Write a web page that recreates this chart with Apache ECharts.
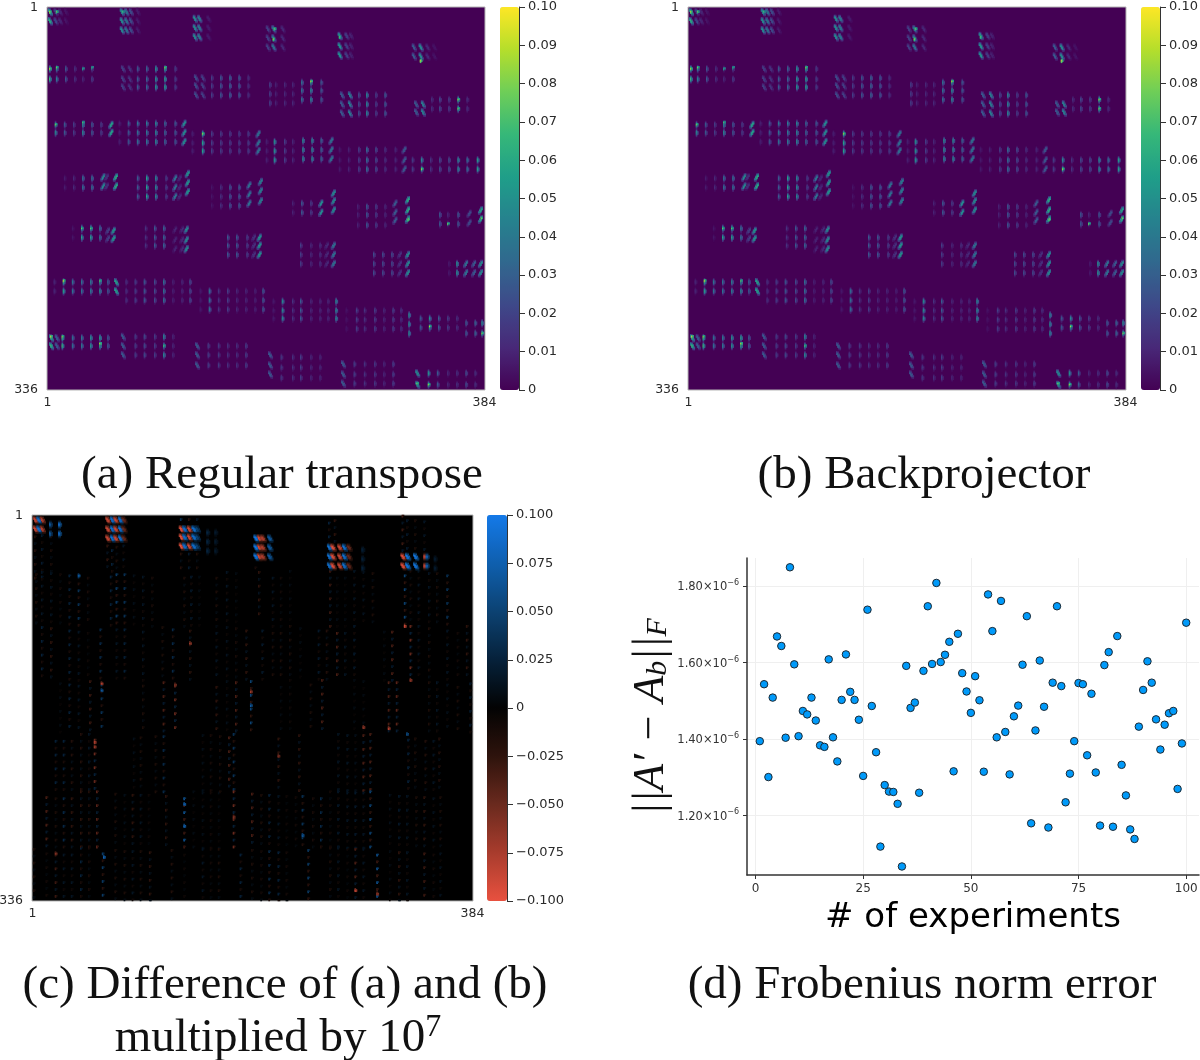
<!DOCTYPE html>
<html><head><meta charset="utf-8">
<style>html,body{margin:0;padding:0;background:#fff}#c{width:1200px;height:1060px}</style>
<script src="https://cdn.jsdelivr.net/npm/echarts@6/dist/echarts.min.js"></script>
</head><body><div id="c"></div>
<script>
const experimentIdx=[1,2,3,4,5,6,7,8,9,10,11,12,13,14,15,16,17,18,19,20,21,22,23,24,25,26,27,28,29,30,31,32,33,34,35,36,37,38,39,40,41,42,43,44,45,46,47,48,49,50,51,52,53,54,55,56,57,58,59,60,61,62,63,64,65,66,67,68,69,70,71,72,73,74,75,76,77,78,79,80,81,82,83,84,85,86,87,88,89,90,91,92,93,94,95,96,97,98,99,100];
const frobErrorE6=[1.394,1.543,1.300,1.508,1.668,1.643,1.403,1.849,1.595,1.407,1.473,1.464,1.508,1.448,1.383,1.379,1.608,1.404,1.341,1.502,1.621,1.523,1.502,1.450,1.303,1.738,1.486,1.365,1.118,1.279,1.262,1.261,1.230,1.066,1.591,1.481,1.495,1.259,1.578,1.747,1.596,1.808,1.601,1.620,1.654,1.315,1.675,1.572,1.524,1.468,1.564,1.501,1.314,1.778,1.682,1.404,1.761,1.418,1.307,1.459,1.487,1.594,1.721,1.179,1.422,1.605,1.484,1.168,1.547,1.747,1.538,1.234,1.309,1.394,1.546,1.543,1.357,1.518,1.312,1.173,1.593,1.627,1.170,1.669,1.332,1.252,1.163,1.138,1.432,1.528,1.603,1.547,1.451,1.372,1.437,1.467,1.473,1.269,1.388,1.704];
const xTicksD=[0,25,50,75,100];
const yTicksD=[1.2,1.4,1.6,1.8];
const colLabels=Array.from({length:384},(_,i)=>String(i+1));
const rowLabels=Array.from({length:336},(_,i)=>String(i+1));

// each group: [columns], [rows], [value per column], spot shape (T tall, B "\" slant, S "/" slant)
const band1=[
[[2,7,11,16],[4,12],[.065,.022,.012,.006],'B'],
[[65,69,73,79],[4,12,20],[.05,.04,.025,.008],'B'],
[[129,133,141],[10,18,26],[.05,.045,.008],'B'],
[[193,198,206],[19,27,35],[.02,.04,.012],'B'],
[[256,262,266],[25,34,42],[.055,.02,.01],'B'],
[[321,327,333,339],[35,43],[.03,.05,.012,.006],'B']];
const band2=[
[[2,8,16,24,31,39],[54,63],[.07,.045,.03,.015,.012,.02],'T'],
[[66,72],[54,63,70],[.02,.015],'B'],
[[79,87,95,103,112],[54,63,70],[.03,.035,.055,.06,.02],'T'],
[[130,136],[62,69,77],[.025,.02],'B'],
[[144,152,160,168,176],[62,69,77],[.02,.03,.035,.03,.015],'T'],
[[195,200,208,215],[68,76,84],[.02,.01,.012,.012],'T'],
[[223,231,240],[66,73,81],[.04,.05,.03],'T'],
[[258,265],[77,85,93],[.03,.045],'B'],
[[273,280,288,296],[77,85,93],[.025,.05,.02,.03],'T'],
[[323,329],[85,92],[.03,.045],'B'],
[[337,344,352,360,368],[81,89],[.015,.025,.02,.06,.015],'T']];
const band3=[
[[7,15,23,31,39,47],[103,110],[.05,.03,.02,.05,.03,.02],'T'],
[[56],[103,110],[.06],'S'],
[[63,71,79,87,95,103,112],[102,110,118],[.01,.03,.04,.045,.05,.035,.03],'T'],
[[120],[102,110,118],[.05],'S'],
[[127,136,144,152,160,168,176],[111,119,126],[.01,.06,.02,.02,.02,.02,.02],'T'],
[[185],[111,119,126],[.04],'S'],
[[192,199,208,215],[118,126,134],[.01,.055,.02,.012],'T'],
[[224,232,240],[117,125,133],[.05,.05,.035],'T'],
[[249],[117,125,133],[.04],'S'],
[[256,264,273,280,288,296,305],[125,134,142],[.008,.01,.02,.04,.025,.015,.012],'T'],
[[313],[125,134,142],[.03],'S'],
[[320,328,336,344,352,360,368,377],[134,142],[.02,.05,.015,.025,.025,.05,.04,.06],'T']];
const band4=[
[[15,23,31,39],[150,158],[.008,.012,.04,.04],'T'],
[[49,52,60],[149,157],[.05,.015,.065],'S'],
[[79,87,95,104],[150,158,166],[.03,.06,.05,.02],'T'],
[[112,116],[150,158,166],[.04,.012],'S'],
[[123],[146,154,162],[.055],'S'],
[[144,152,160,168],[158,166,174],[.006,.015,.03,.03],'T'],
[[177],[156,164,172],[.04],'S'],
[[187],[153,161,170],[.045],'S'],
[[215,223,231],[172,180],[.01,.03,.02],'T'],
[[240],[172,180],[.05],'S'],
[[251],[163,170,178],[.05],'S'],
[[272,280,288,296],[175,182,191],[.01,.03,.02,.012],'T'],
[[305],[172,180,187],[.03],'S'],
[[316],[169,178,186],[.065],'S'],
[[344,351,360],[182,190],[.03,.012,.03],'T'],
[[370],[181,189],[.025],'S'],
[[380],[178,186],[.06],'S']];
const band5=[
[[22,30,38,46],[194,202],[.006,.06,.06,.04],'T'],
[[53,58],[196,203],[.02,.055],'S'],
[[86,94,102],[194,202,209],[.015,.03,.035],'T'],
[[112,118,122],[195,204,212],[.01,.012,.05],'S'],
[[158,166,175],[202,209,217],[.03,.03,.02],'T'],
[[181,186],[202,209,217],[.015,.055],'S'],
[[222,231,239],[209,217,225],[.02,.012,.015],'T'],
[[245,251],[209,217,225],[.012,.04],'S'],
[[286,294,302],[217,225,233],[.025,.025,.025],'T'],
[[309,316],[217,225,233],[.015,.05],'S'],
[[352,359],[225,233],[.008,.055],'T'],
[[367,374,380],[225,233],[.04,.03,.05],'S']];
const band6=[
[[6,14,22,30,38,46,53],[241,249],[.012,.06,.04,.04,.045,.05,.03],'T'],
[[60],[241,249],[.06],'B'],
[[69,77,85,94,102,110,118,125],[241,249,257],[.015,.02,.03,.025,.04,.01,.012,.025],'T'],
[[134,142,150,158,166,174,182,189],[249,257,265],[.008,.04,.015,.02,.012,.012,.01,.03],'T'],
[[198,206,215,222,231,239,246,253],[258,266,273],[.008,.05,.015,.03,.012,.012,.012,.05],'T'],
[[262,271,278,287,295,303,310],[266,274,282],[.006,.02,.015,.02,.012,.02,.015],'T'],
[[317],[270,278,286],[.05],'T'],
[[327,335,343,351,359],[273,281],[.03,.05,.03,.02,.015],'T'],
[[367,375,381],[277,286],[.03,.035,.05],'T']];
const band7=[
[[3,8],[290,297],[.06,.03],'B'],
[[13,22,30,38,46,53],[290,297],[.07,.04,.045,.055,.06,.03],'T'],
[[66],[289,297,305],[.03],'B'],
[[77,85,94,102,110],[289,297,305],[.02,.025,.02,.05,.012],'T'],
[[131],[297,305,314],[.03],'B'],
[[141,150,158,166,174],[297,305,314],[.02,.018,.015,.015,.02],'T'],
[[195],[305,314,322],[.03],'B'],
[[205,215,222,231,239],[307,316,325],[.018,.015,.02,.012,.012],'T'],
[[259],[313,322,330],[.03],'B'],
[[269,278,287,295,303],[313,322,330],[.02,.015,.018,.012,.02],'T'],
[[324],[321,331],[.05],'B'],
[[334,342,351,359,367,375],[321,331],[.055,.03,.012,.015,.025,.015],'T']];
const hotA=[[2,4,.09],[8,4,.08],[2,54,.09],[8,53,.08],[31,54,.06],[39,53,.065],[66,4,.07],[103,53,.085],[199,19,.08],[198,28,.085],[327,47,.095],[231,65,.09],[360,81,.085],[360,89,.08],[7,103,.08],[31,101,.07],[136,111,.085],[328,142,.085],[351,190,.08],[316,186,.09],[30,194,.075],[38,194,.075],[14,240,.095],[46,240,.075],[335,280,.085],[381,286,.08],[3,289,.1],[3,297,.07],[13,289,.085],[46,295,.09],[102,297,.07],[324,330,.08],[334,331,.085],[256,26,.075],[380,185,.085]];

// Difference panel
const cBlocks=[
[[2,5,8],[4,12],[-.09,.09,-.08],'B'],
[[15,23],[8,16],[.07,.09],'T'],
[[65,69,72,76,79],[4,12,20],[-.09,.09,-.09,.09,-.05],'B'],
[[129,132,136,140,143],[12,19,27],[-.1,.09,-.09,.09,.05],'B'],
[[152,159],[15,23,31],[.03,.02],'T'],
[[194,197,200,206],[20,28,36],[.1,-.09,-.08,.07],'B'],
[[258,261,267,271,275],[28,36,44],[.09,-.1,-.09,.09,-.05],'B'],
[[287],[30,38,46],[.025],'T'],
[[322,326,333],[36,44],[-.1,.1,.1],'B'],
[[341,343],[36,44],[-.09,.08],'T'],
[[350],[38,46],[.02],'T']];
// each streak: column, first row, last row, value
const streaksTop=[[2,16,55,-.015],[8,16,55,.015],[16,16,48,-.012],[65,24,48,-.02],[69,24,48,.02],[73,24,48,-.012],[79,24,48,.012],[129,0,10,.03],[136,0,10,-.02],[143,0,10,.012],[129,30,48,-.015],[136,30,48,.015],[143,30,48,-.012],[258,0,24,.02],[263,0,24,-.02],[322,0,32,-.025],[326,0,32,.015],[333,0,32,-.012],[341,0,32,.012],[194,40,48,-.01]];
const streaksA=[[3,48,95,-.012],[8,48,95,.012],[16,48,95,.012],[24,48,95,-.008],[32,48,95,.02],[40,48,95,.03],[48,48,95,-.01],[68,48,96,.02],[73,48,96,.035],[80,48,96,.03],[88,48,96,.008],[96,48,96,.012],[104,48,96,-.01],[132,48,96,-.012],[138,48,96,.015],[145,48,96,.006],[160,48,96,-.012],[169,48,96,.012],[177,48,96,.006],[197,48,90,-.02],[209,48,96,.012],[216,48,96,-.008],[224,48,96,.006],[259,48,96,-.025],[265,48,96,.006],[272,48,96,.006],[280,48,96,.012],[288,48,96,.01],[296,48,96,-.012],[324,50,96,.04],[329,48,96,-.01],[336,48,96,.012],[345,48,96,.012],[352,48,96,-.012],[361,48,95,.03]];
const streaksB=[[8,96,143,.02],[16,96,143,-.02],[32,96,143,.02],[40,96,143,.012],[48,96,143,-.006],[59,96,143,.025],[73,96,143,.012],[80,96,143,.02],[96,96,143,.012],[113,96,143,-.012],[122,96,143,.025],[137,96,143,-.02],[160,96,143,.012],[169,96,143,.01],[177,96,143,-.01],[186,96,143,-.02],[200,96,143,.015],[209,96,143,-.012],[216,96,143,-.012],[224,96,143,-.012],[233,96,143,.006],[249,96,143,.015],[256,96,143,-.015],[265,96,143,-.03],[272,96,143,.012],[280,96,143,.015],[306,96,143,.006],[313,96,143,-.03],[329,96,143,-.04],[336,96,143,.012],[345,96,143,-.012],[361,96,143,.012],[370,96,143,-.008],[378,96,143,-.02]];
const streaksC=[[24,143,188,.006],[32,143,188,.02],[40,143,188,.012],[50,143,188,-.025],[60,143,188,.03],[96,143,188,-.012],[114,143,188,-.03],[124,143,188,-.04],[160,143,188,-.02],[169,143,188,.008],[177,143,188,-.03],[190,143,188,.04],[216,143,188,.006],[224,143,188,-.006],[242,143,188,-.012],[252,143,188,-.03],[280,143,188,.006],[288,143,188,.006],[310,143,188,-.03],[317,143,188,-.035],[345,143,188,-.012],[352,143,188,.012],[361,143,188,.008],[370,143,188,-.012],[381,143,188,.015]];
const streaksD=[[20,190,240,.02],[27,190,240,.02],[34,190,240,-.015],[42,190,240,-.015],[49,190,240,.012],[54,190,240,-.04],[88,190,240,.008],[94,190,240,-.012],[107,190,240,-.012],[114,190,240,.025],[148,190,240,.008],[155,190,240,-.01],[163,190,240,-.012],[171,190,240,-.03],[175,190,240,.03],[214,190,240,-.02],[232,190,240,-.02],[266,190,240,.012],[274,190,240,.012],[281,190,240,.008],[288,190,240,-.03],[294,190,240,-.03],[327,190,240,.02],[333,190,240,-.012],[342,190,240,-.015],[349,190,240,.012],[354,190,240,-.015]];
const streaksE=[[12,240,289,-.03],[20,240,289,-.012],[27,240,289,.025],[34,240,289,-.02],[42,240,289,-.02],[49,240,289,-.015],[56,240,289,-.035],[72,240,289,-.012],[80,240,289,.008],[87,240,289,-.02],[94,240,289,.012],[101,240,289,-.006],[116,240,289,-.02],[132,240,289,.05],[140,240,289,.006],[148,240,289,.008],[155,240,289,-.008],[162,240,289,.006],[175,240,289,-.04],[191,240,289,-.03],[199,240,289,-.012],[206,240,289,.02],[214,240,289,.012],[221,240,289,-.006],[229,240,289,-.008],[235,240,289,.03],[244,240,289,-.01],[251,240,289,.025],[259,240,289,-.008],[266,240,289,.015],[274,240,289,.012],[281,240,289,.015],[288,240,289,.012],[294,240,289,.04],[311,240,289,.008],[319,240,289,.015],[326,240,289,.012],[334,240,289,-.012],[341,240,289,-.02],[349,240,289,.01],[355,240,289,-.012]];
const streaksF=[[1,289,335,-.012],[12,289,335,-.008],[20,289,335,-.025],[27,289,335,.012],[34,289,335,.012],[42,289,335,.02],[49,289,335,-.01],[61,289,335,.035],[72,289,335,-.012],[80,289,335,-.012],[87,289,335,.012],[94,289,335,-.012],[102,289,335,-.02],[121,289,335,-.015],[132,289,335,-.006],[148,289,335,.012],[155,289,335,-.008],[162,289,335,-.012],[181,289,335,.02],[191,289,335,-.012],[199,289,335,-.008],[206,289,335,.025],[214,289,335,.02],[221,289,335,-.008],[240,289,335,.035],[259,289,335,-.012],[266,289,335,.012],[274,289,335,-.006],[281,289,335,-.03],[288,289,335,.012],[300,289,335,.05],[311,289,335,.006],[319,289,335,-.02],[326,289,335,.012],[341,289,335,-.025],[349,289,335,-.008],[355,289,335,.01]];
const hotC=[[54,197,-.08],[54,201,-.07],[137,111,-.07],[60,146,-.08],[60,152,.07],[124,147,-.06],[190,153,-.07],[190,165,.07],[132,251,.08],[132,270,.08],[300,329,-.07],[281,326,-.09],[214,209,-.06],[20,294,-.06],[288,184,-.07],[235,278,.07],[175,262,-.06],[62,297,.08],[326,190,.06],[310,185,-.08],[324,96,-.09],[329,143,-.07],[40,52,.07]];

const stamps={
T:[[0,-3,.2],[0,-2,.55],[0,-1,.9],[0,0,1],[0,1,.9],[0,2,.55],[0,3,.2],[1,-1,.45],[1,0,.55],[1,1,.45]],
B:[[-1,-3,.4],[0,-3,.25],[-1,-2,.7],[0,-2,.6],[-1,-1,.8],[0,-1,1],[1,-1,.3],[0,0,1],[1,0,.85],[0,1,.7],[1,1,1],[2,1,.35],[1,2,.8],[2,2,.55],[1,3,.25],[2,3,.3]],
S:[[1,-3,.4],[0,-3,.25],[1,-2,.7],[0,-2,.6],[1,-1,.8],[0,-1,1],[-1,-1,.3],[0,0,1],[-1,0,.85],[0,1,.7],[-1,1,1],[-2,1,.35],[-1,2,.8],[-2,2,.55],[-1,3,.25],[-2,3,.3]]};
const streakGain=1.25;

function paint(cells,col,row,v){
  if(col<0||col>383||row<0||row>335)return;
  const k=col+row*1000,o=cells.get(k);
  if(o===undefined||Math.abs(v)>Math.abs(o))cells.set(k,v);
}
function stampSpot(cells,col,row,v,shape){
  for(const s of stamps[shape])paint(cells,col+s[0],row+s[1],v*s[2]);
}
function addGroups(cells,groups,fat){
  for(const g of groups)g[0].forEach((c,i)=>g[1].forEach(r=>{
    stampSpot(cells,c,r,g[2][i],g[3]);
    if(fat)stampSpot(cells,c+1,r,g[2][i]*.9,g[3]);
  }));
}
function toData(cells){
  const out=[];cells.forEach((v,k)=>out.push([k%1000,Math.floor(k/1000),+v.toFixed(4)]));return out;
}
const cellsA=new Map();
[band1,band2,band3,band4,band5,band6,band7].forEach(b=>addGroups(cellsA,b,false));
hotA.forEach(h=>{[[0,-1,.75],[0,0,1],[0,1,.75],[1,0,.7],[1,-1,.6]].forEach(s=>paint(cellsA,h[0]+s[0],h[1]+s[1],h[2]*s[2]));});
const dataA=toData(cellsA);
const cellsC=new Map();
[streaksTop,streaksA,streaksB,streaksC,streaksD,streaksE,streaksF].forEach(list=>list.forEach(s=>{
  let n=0;
  for(let r=s[1]+s[0]%7;r<=s[2];r+=6,n++){
    const v=(n%2?-.5:1)*s[3]*streakGain;
    paint(cellsC,s[0],r,v);paint(cellsC,s[0],r+1,v);paint(cellsC,s[0]+1,r,v*.6);
  }
}));
addGroups(cellsC,cBlocks,true);
hotC.forEach(h=>{[[0,0,1],[0,1,1],[1,0,.8],[1,1,.7],[0,-1,.6]].forEach(s=>paint(cellsC,h[0]+s[0],h[1]+s[1],h[2]*s[2]));});
const dataC=toData(cellsC);

const viridis=['#440154','#482878','#3e4989','#31688e','#26828e','#1f9e89','#35b779','#6ece58','#b5de2b','#fde725'];
const redBlack=['#e8513f','#a83c2d','#6a2a1e','#2e130c','#030303','#06213a','#0c4272','#0f5fae','#1479e8'];
const TXT='#2a2a2a',FONT='DejaVu Sans';

const P=[
 {l:47,t:7,w:438,h:383,bx:500,bw:19,bh:383,bt:7,bg:'#440154',data:dataA,min:0,max:.1,step:.01,colors:viridis,fmt:v=>v===0?'0':v.toFixed(2)},
 {l:688,t:7,w:438,h:383,bx:1141,bw:19,bh:383,bt:7,bg:'#440154',data:dataA,min:0,max:.1,step:.01,colors:viridis,fmt:v=>v===0?'0':v.toFixed(2)},
 {l:32,t:515,w:441,h:386,bx:487,bw:20,bh:386,bt:515,bg:'#000000',data:dataC,min:-.1,max:.1,step:.025,colors:redBlack,fmt:v=>Math.abs(v)<1e-9?'0':(v<0?'\u2212':'')+Math.abs(v).toFixed(3)}
];
const grid=[],xAxis=[],yAxis=[],series=[],visualMap=[];
P.forEach((p,i)=>{
  const g=i*2;
  grid.push({left:p.l,top:p.t,width:p.w,height:p.h,show:true,backgroundColor:p.bg,borderColor:'#b5b5b5',borderWidth:1,outerBoundsMode:'none'});
  grid.push({left:p.bx,top:p.bt,width:p.bw,height:p.bh,show:false,outerBoundsMode:'none'});
  const nm=colLabels.length-1,nr=rowLabels.length-1;
  xAxis.push({type:'category',gridIndex:g,data:colLabels,axisLine:{show:false},axisTick:{show:false},splitLine:{show:false},
    axisLabel:{interval:k=>k===0||k===nm,margin:6,fontSize:12.5,color:TXT,fontFamily:FONT,hideOverlap:false}});
  yAxis.push({type:'category',gridIndex:g,data:rowLabels,inverse:true,axisLine:{show:false},axisTick:{show:false},splitLine:{show:false},
    axisLabel:{interval:k=>k===0||k===nr,margin:9,fontSize:12.5,color:TXT,fontFamily:FONT,hideOverlap:false}});
  xAxis.push({type:'value',gridIndex:g+1,show:false,min:0,max:1});
  yAxis.push({type:'value',gridIndex:g+1,position:'right',min:p.min,max:p.max,interval:p.step,
    axisLine:{show:true,onZero:false,lineStyle:{color:'#333',width:1}},axisTick:{show:true,length:6,lineStyle:{color:'#333'}},splitLine:{show:false},
    axisLabel:{margin:9,fontSize:13,color:TXT,fontFamily:FONT,formatter:p.fmt}});
  series.push({type:'heatmap',xAxisIndex:g,yAxisIndex:g,data:p.data,silent:true,progressive:0,animation:false,emphasis:{disabled:true},z:2});
  visualMap.push({type:'continuous',seriesIndex:series.length-1,dimension:2,min:p.min,max:p.max,left:p.bx,top:p.bt,itemWidth:p.bw,itemHeight:p.bh,padding:0,
    text:null,showLabel:false,calculable:false,hoverLink:false,inRange:{color:p.colors},z:1});
});
// scatter panel
const gd=grid.length;
grid.push({left:747,top:558,width:452,height:317,show:false,outerBoundsMode:'none'});
xAxis.push({type:'value',gridIndex:gd,min:-1.97,max:102.97,
  name:'# of experiments',nameLocation:'middle',nameGap:26,nameTextStyle:{fontFamily:FONT,fontSize:34,color:'#000'},
  axisLine:{show:true,onZero:false,lineStyle:{color:'#333',width:1.5}},
  axisTick:{show:true,length:4,lineStyle:{color:'#333'},customValues:xTicksD},
  axisLabel:{customValues:xTicksD,margin:8,fontSize:12,color:'#333',fontFamily:FONT},
  splitLine:{show:true,lineStyle:{color:'#efefef',width:1}}});
yAxis.push({type:'value',gridIndex:gd,min:1.0437,max:1.8733,
  name:"{m|||A\u2032 \u2212 A}{s|b}{m|||}{s|F}",nameLocation:'middle',nameGap:66,nameRotate:90,
  nameTextStyle:{rich:{m:{fontFamily:'Liberation Serif',fontStyle:'italic',fontSize:44,color:'#111'},s:{fontFamily:'Liberation Serif',fontStyle:'italic',fontSize:30,color:'#111',verticalAlign:'bottom',padding:[14,0,0,0]}}},
  axisLine:{show:true,onZero:false,lineStyle:{color:'#333',width:1.5}},
  axisTick:{show:true,length:4,lineStyle:{color:'#333'},customValues:yTicksD},
  axisLabel:{customValues:yTicksD,margin:8,color:'#333',fontFamily:FONT,
    formatter:v=>'{a|'+v.toFixed(2)+'\u00d710}{b|\u22126}',
    rich:{a:{fontSize:11.5,fontFamily:FONT,color:'#333',padding:[3,0,0,0]},b:{fontSize:8,fontFamily:FONT,color:'#333',padding:[0,0,6,0]}}},
  splitLine:{show:true,lineStyle:{color:'#efefef',width:1}}});
series.push({type:'scatter',xAxisIndex:xAxis.length-1,yAxisIndex:yAxis.length-1,data:experimentIdx.map((x,i)=>[x,frobErrorE6[i]]),symbolSize:7.5,silent:true,
  itemStyle:{color:'#009afa',borderColor:'#1c2a35',borderWidth:1,opacity:1},z:3});

const capFont={fontFamily:'Liberation Serif',fontSize:47,fontWeight:'normal',color:'#111'};
const cap=(text,x,y)=>({text,left:x,top:y,textAlign:'center',padding:0,textStyle:Object.assign({},capFont)});
const title=[cap('(a) Regular transpose',282,452),cap('(b) Backprojector',924,452),cap('(c) Difference of (a) and (b)',285,962),cap('(d) Frobenius norm error',922,962),
 {text:'{a|multiplied by 10}{b|7}',left:278,top:1012,textAlign:'center',padding:0,textStyle:{fontWeight:'normal',rich:{a:{fontFamily:'Liberation Serif',fontSize:47,fontWeight:'normal',color:'#111'},b:{fontFamily:'Liberation Serif',fontSize:32,fontWeight:'normal',color:'#111',padding:[0,0,22,0]}}}}];
const chart=echarts.init(document.getElementById('c'),null,{renderer:'canvas'});
chart.setOption({animation:false,backgroundColor:'#ffffff',title,grid,xAxis,yAxis,visualMap,series,tooltip:{show:false}});
</script></body></html>
